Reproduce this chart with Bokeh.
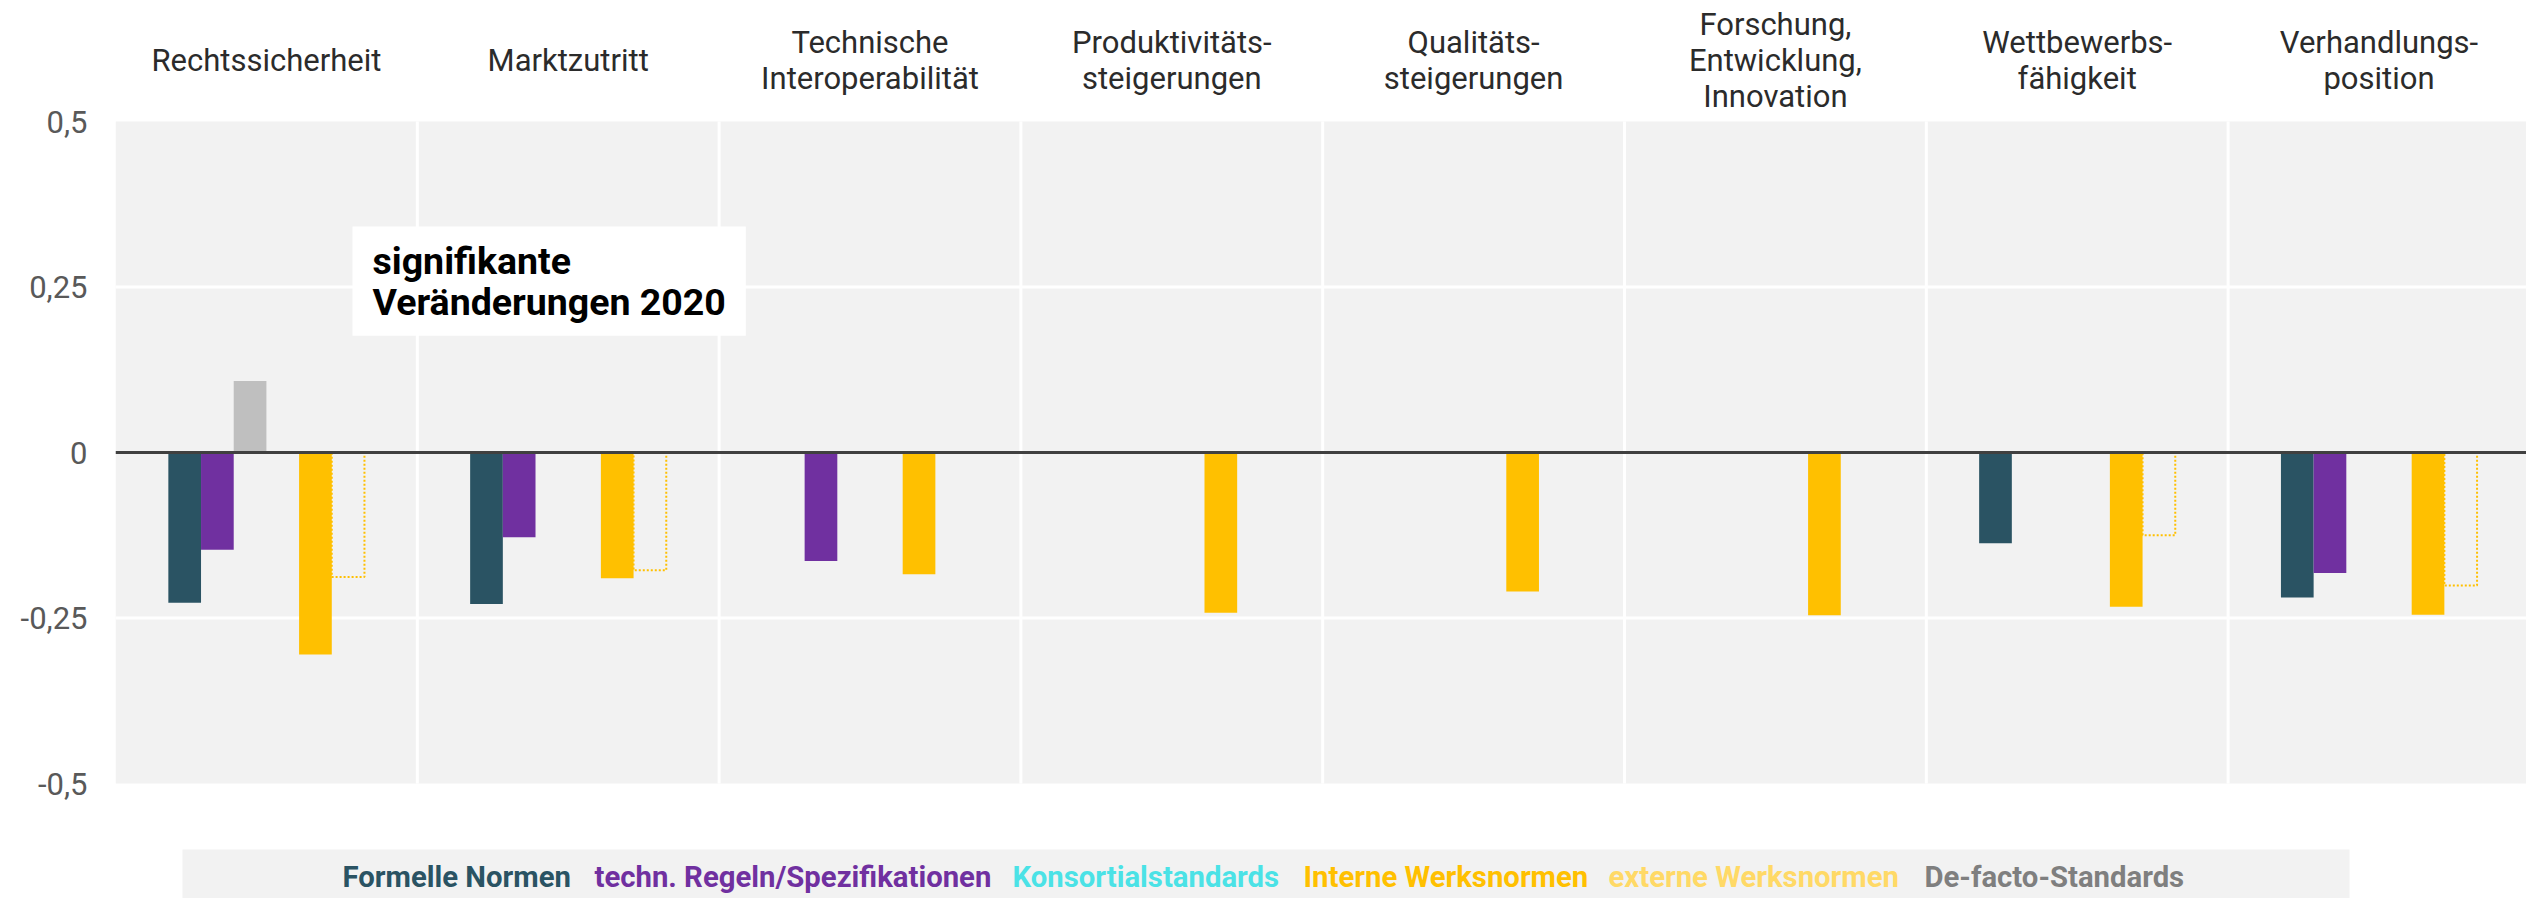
import math
from bokeh.plotting import figure
from bokeh.models import (Range1d, FixedTicker, CustomJSTickFormatter, Span, Label,
                          ColumnDataSource)
from bokeh.embed import file_html
from bokeh.resources import INLINE

# ---------------- data ----------------
categories = ["Rechtssicherheit", "Marktzutritt", "Technische\nInteroperabilität",
              "Produktivitäts-\nsteigerungen", "Qualitäts-\nsteigerungen",
              "Forschung,\nEntwicklung,\nInnovation", "Wettbewerbs-\nfähigkeit",
              "Verhandlungs-\nposition"]
nan = float("nan")
formelle_normen = [-0.227, -0.229, nan, nan, nan, nan, -0.137, -0.219]
techn_regeln = [-0.147, -0.128, -0.164, nan, nan, nan, nan, -0.182]
defacto_standards = [0.108, nan, nan, nan, nan, nan, nan, nan]
konsortialstandards = [nan, nan, nan, nan, nan, nan, nan, nan]
interne_werksnormen = [-0.305, -0.190, -0.184, -0.242, -0.210, -0.246, -0.233, -0.245]
externe_werksnormen = [-0.188, -0.178, nan, nan, nan, nan, -0.125, -0.201]

series_names = ["Formelle Normen", "techn. Regeln/Spezifikationen", "Konsortialstandards",
                "Interne Werksnormen", "externe Werksnormen", "De-facto-Standards"]
series_colors = ["#2A5363", "#7030A0", "#4BE2E6", "#FFC000", "#FFD966", "#7F7F7F"]
y_ticks = [-0.5, -0.25, 0, 0.25, 0.5]
grid_y = [-0.25, 0.25]

# ---------------- geometry ----------------
W, H = 2526, 898
FRAME_LEFT = 115
PANEL_PX = 301.8
TOP_PX, BOTTOM_PX = 121, 783          # page y of +0.5 and -0.5
UNIT_PX = BOTTOM_PX - TOP_PX


def py(page_y):
    return 0.5 - (page_y - TOP_PX) / UNIT_PX


def px(page_x):
    return (page_x - FRAME_LEFT) / PANEL_PX


n = len(categories)
p = figure(width=W, height=H, output_backend="svg", toolbar_location=None,
           x_range=Range1d(0, (W - FRAME_LEFT) / PANEL_PX),
           y_range=Range1d(py(H), py(0)),
           min_border_left=FRAME_LEFT, min_border_right=0, min_border_top=0,
           min_border_bottom=0, x_axis_location=None)
p.background_fill_color = "white"
p.border_fill_color = "white"
p.outline_line_color = None
p.grid.visible = False

p.yaxis.ticker = FixedTicker(ticks=y_ticks)
p.yaxis.formatter = CustomJSTickFormatter(code="return tick.toString().replace('.', ',');")
p.yaxis.axis_line_color = None
p.yaxis.major_tick_line_color = None
p.yaxis.minor_tick_line_color = None
p.yaxis.major_tick_out = 0
p.yaxis.major_tick_in = 0
p.yaxis.major_label_standoff = 28
p.yaxis.major_label_text_font = "Roboto"
p.yaxis.major_label_text_font_size = "31px"
p.yaxis.major_label_text_color = "#595959"

# plot panel background and white grid lines
p.quad(left=0, right=n, bottom=-0.5, top=0.5, fill_color="#F2F2F2", line_color=None)
p.segment(x0=[0] * len(grid_y), x1=[n] * len(grid_y), y0=grid_y, y1=grid_y,
          line_color="white", line_width=3)
sep = list(range(1, n))
p.segment(x0=sep, x1=sep, y0=[-0.5] * len(sep), y1=[0.5] * len(sep),
          line_color="white", line_width=3)

# ---------------- bars ----------------
BAR_W = 0.1083
slot_of = {"Formelle Normen": 0, "techn. Regeln/Spezifikationen": 1,
           "De-facto-Standards": 2, "Konsortialstandards": 3,
           "Interne Werksnormen": 4, "externe Werksnormen": 5}
series_values = {"Formelle Normen": formelle_normen,
                 "techn. Regeln/Spezifikationen": techn_regeln,
                 "Konsortialstandards": konsortialstandards,
                 "Interne Werksnormen": interne_werksnormen,
                 "externe Werksnormen": externe_werksnormen,
                 "De-facto-Standards": defacto_standards}
bar_fill = {"Formelle Normen": "#2A5363", "techn. Regeln/Spezifikationen": "#7030A0",
            "Konsortialstandards": "#4BE2E6", "Interne Werksnormen": "#FFC000",
            "De-facto-Standards": "#BFBFBF"}

for name in series_names:
    vals = series_values[name]
    xs, tops = [], []
    for i, v in enumerate(vals):
        if not math.isnan(v):
            xs.append(i + 0.5 + (slot_of[name] - 2.5) * BAR_W)
            tops.append(v)
    if not xs:
        continue
    src = ColumnDataSource(dict(x=xs, top=tops))
    if name == "externe Werksnormen":
        p.vbar(x="x", top="top", bottom=0, width=BAR_W, source=src,
               fill_alpha=0, line_color="#FFC000", line_width=2, line_dash="2 2")
    else:
        p.vbar(x="x", top="top", bottom=0, width=BAR_W, source=src,
               fill_color=bar_fill[name], line_color=None)

p.add_layout(Span(location=0, dimension="width", line_color="#404040", line_width=3))

# ---------------- category titles ----------------
for i, cat in enumerate(categories):
    p.add_layout(Label(x=i + 0.5, y=py(60), text=cat, text_align="center",
                       text_baseline="middle", text_font="Roboto", text_font_size="31px",
                       text_color="#2B2B2B", text_line_height=0.97))

# ---------------- annotation ----------------
p.add_layout(Label(x=px(352), y=py(226),
                   text="signifikante\nVeränderungen 2020", text_align="left",
                   text_baseline="top", text_font="Roboto", text_font_style="bold",
                   text_font_size="37.5px", text_color="black", text_line_height=0.94,
                   background_fill_color="white", padding=(20, 12)))

# ---------------- legend ----------------
p.quad(left=px(182), right=px(2349), top=py(849), bottom=py(H + 5),
       fill_color="#F2F2F2", line_color=None)
legend_starts = [342, 594, 1012, 1303, 1608, 1924]
for name, col, sx in zip(series_names, series_colors, legend_starts):
    p.add_layout(Label(x=px(sx), y=py(876), text=name,
                       text_align="left", text_baseline="middle", text_font="Roboto",
                       text_font_style="bold", text_font_size="29.3px", text_color=col))

open("out.html", "w").write(file_html(p, INLINE))
